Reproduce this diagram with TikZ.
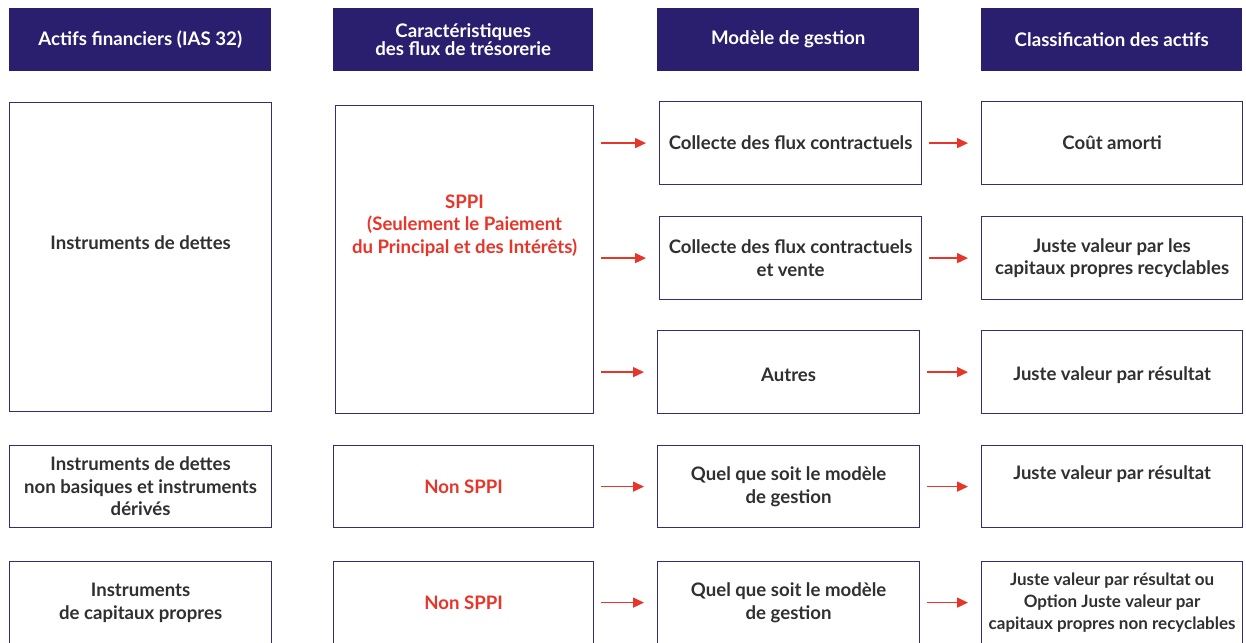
\documentclass[tikz,border=0pt]{standalone}
\usepackage{fontspec}
\setmainfont{Lato}
\usetikzlibrary{arrows.meta,positioning}
\definecolor{navy}{RGB}{42,30,110}
\definecolor{boxline}{RGB}{52,44,124}
\definecolor{sppired}{RGB}{232,53,42}
\definecolor{txtgrey}{RGB}{48,48,48}
\tikzset{
  hdr/.style={fill=navy, text=white, font=\bfseries\fontsize{18.7}{18.5}\selectfont,
    minimum width=262pt, minimum height=63pt, anchor=north west, inner sep=0pt, align=center},
  box/.style={draw=boxline, line width=1.2pt, text=txtgrey, font=\bfseries\fontsize{18.6}{22.5}\selectfont,
    minimum width=#1, anchor=north west, inner sep=0pt, align=center},
  box/.default=262pt,
  txt/.style={text=txtgrey, font=\bfseries\fontsize{18.6}{22.5}\selectfont, align=center, inner sep=0pt},
  redtxt/.style={text=sppired},
  flow/.style={draw=sppired, line width=1.4pt, -{Triangle[length=11pt,width=10pt]},
    shorten <=7pt, shorten >=13pt}
}
\begin{document}
\begin{tikzpicture}[x=1pt,y=-1pt]
\clip (0,0) rectangle (1246,642);
\fill[white] (0,0) rectangle (1246,642);
% headers
\node[hdr] (h1) at (9,8) {Actifs financiers (IAS 32)};
\node[hdr, minimum width=260pt] (h2) at (333,8) {Caractéristiques\\des flux de trésorerie};
\node[hdr] (h3) at (657,8) {Modèle de gestion};
\node[hdr, minimum width=261pt] (h4) at (981,8) {Classification des actifs};
% instruments de dettes
\node[box, minimum height=309pt] (dettes) at (9,102) {};
\node[txt] (dettestxt) at ([yshift=14pt]dettes.center) {Instruments de dettes};
\node[box=258pt, minimum height=308pt] (sppi) at (335,105) {};
\node[txt, redtxt] (sppitxt) at ([yshift=34pt]sppi.center) {SPPI\\(Seulement le Paiement\\du Principal et des Intérêts)};
\node[box, minimum height=83pt] (collecte) at (659,101) {Collecte des flux contractuels};
\node[box, minimum height=83pt] (vente) at (659,216) {Collecte des flux contractuels\\et vente};
\node[box, minimum height=83pt] (autres) at (657,330) {};
\node[txt] (autrestxt) at ([yshift=-3pt]autres.center) {Autres};
\node[box=261pt, minimum height=83pt] (cout) at (981,101) {Coût amorti};
\node[box=261pt, minimum height=83pt] (jvcp) at (981,216) {Juste valeur par les\\capitaux propres recyclables};
\node[box=261pt, minimum height=83pt] (jvr) at (981,330) {};
\node[txt] (jvrtxt) at ([yshift=-3pt]jvr.center) {Juste valeur par résultat};
% non basiques
\node[box, minimum height=82pt] (nonbas) at (9,445) {Instruments de dettes\\non basiques et instruments\\dérivés};
\node[box=260pt, minimum height=82pt, redtxt] (nsppi) at (333,445) {Non SPPI};
\node[box, minimum height=82pt] (quel) at (657,445) {Quel que soit le modèle\\de gestion};
\node[box=261pt, minimum height=82pt] (jvr2) at (981,445) {};
\node[txt] (jvr2txt) at ([yshift=12pt]jvr2.center) {Juste valeur par résultat};
% capitaux propres
\node[box, minimum height=82pt] (capit) at (9,561) {Instruments\\de capitaux propres};
\node[box=260pt, minimum height=82pt, redtxt] (nsppi2) at (333,561) {Non SPPI};
\node[box, minimum height=82pt] (quel2) at (657,561) {Quel que soit le modèle\\de gestion};
\node[box=261pt, minimum height=82pt, font=\bfseries\fontsize{17}{22}\selectfont] (option) at (981,561) {Juste valeur par résultat ou\\Option Juste valeur par\\capitaux propres non recyclables};
% fleches
\draw[flow] (sppi.east |- collecte.west) -- (collecte.west);
\draw[flow] (sppi.east |- vente.west) -- (vente.west);
\draw[flow] (sppi.east |- autres.west) -- (autres.west);
\draw[flow] (collecte) -- (cout);
\draw[flow] (vente) -- (jvcp);
\draw[flow] (autres) -- (jvr);
\draw[flow] (nsppi) -- (quel);
\draw[flow] (quel) -- (jvr2);
\draw[flow] (nsppi2) -- (quel2);
\draw[flow] (quel2) -- (option);
\end{tikzpicture}
\end{document}
